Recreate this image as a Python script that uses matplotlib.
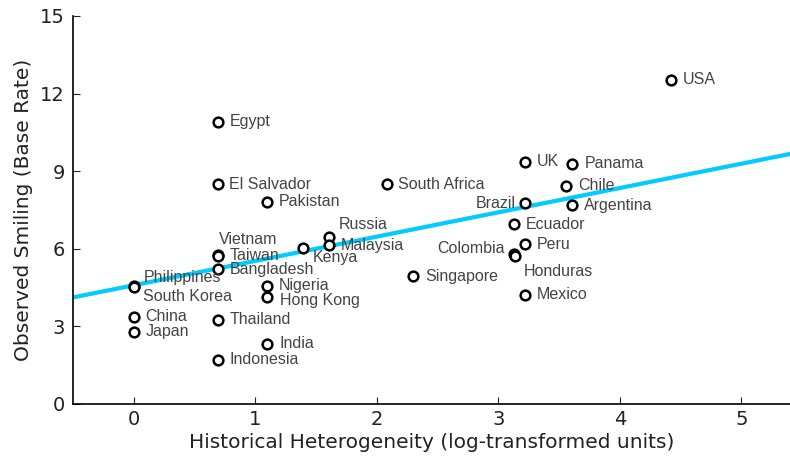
import matplotlib.pyplot as plt

countries = ['Philippines', 'South Korea', 'China', 'Japan', 'Egypt', 'El Salvador',
             'Vietnam', 'Taiwan', 'Bangladesh', 'Thailand', 'Indonesia', 'Pakistan',
             'Nigeria', 'Hong Kong', 'India', 'Kenya', 'Russia', 'Malaysia',
             'South Africa', 'Singapore', 'UK', 'Panama', 'Chile', 'Brazil',
             'Argentina', 'Ecuador', 'Peru', 'Colombia', 'Honduras', 'Mexico', 'USA']
heterogeneity = [0.0, 0.0, 0.0, 0.0, 0.69, 0.69,
                 0.69, 0.69, 0.69, 0.69, 0.69, 1.10,
                 1.10, 1.10, 1.10, 1.39, 1.61, 1.61,
                 2.08, 2.30, 3.22, 3.61, 3.56, 3.22,
                 3.61, 3.13, 3.22, 3.13, 3.14, 3.22, 4.42]
smiling = [4.58, 4.52, 3.38, 2.80, 10.91, 8.50,
           5.77, 5.74, 5.20, 3.26, 1.71, 7.81,
           4.58, 4.12, 2.33, 6.02, 6.45, 6.14,
           8.50, 4.93, 9.36, 9.28, 8.43, 7.77,
           7.69, 6.95, 6.17, 5.80, 5.72, 4.23, 12.54]

# fitted line
fit_intercept = 4.59
fit_slope = 0.94

# label offsets in points (dx, dy, ha), default is right of the marker
offsets = {
    'Philippines': (7, 6, 'left'), 'South Korea': (7, -7, 'left'),
    'Vietnam': (1, 11, 'left'), 'Kenya': (7, -7, 'left'), 'Russia': (7, 9, 'left'),
    'Brazil': (-7, 0, 'right'), 'Colombia': (-7, 4, 'right'),
    'Honduras': (6, -11, 'left'), 'Hong Kong': (9, -2, 'left'),
}

fig = plt.figure(figsize=(7.9, 4.57), dpi=100)
ax = fig.add_axes([0.0924, 0.116, 0.9076, 0.849])

ax.axline((0, fit_intercept), slope=fit_slope, color='#00ccff', lw=3, zorder=1)
ax.plot(heterogeneity, smiling, 'o', ms=7, mfc='white', mec='black', mew=1.8,
        zorder=3)

for name, x, y in zip(countries, heterogeneity, smiling):
    dx, dy, ha = offsets.get(name, (8.5, 0, 'left'))
    ax.annotate(name, (x, y), xytext=(dx, dy), textcoords='offset points',
                ha=ha, va='center', fontsize=11.5, color='#444444',
                family='Liberation Sans', zorder=4)

ax.set_xlim(-0.5, 5.4)
ax.set_ylim(0, 15)
ax.set_xticks([0, 1, 2, 3, 4, 5])
ax.set_yticks([0, 3, 6, 9, 12, 15])
ax.spines['top'].set_visible(False)
ax.spines['right'].set_visible(False)
ax.spines['left'].set_linewidth(1.2)
ax.spines['bottom'].set_linewidth(1.2)
ax.tick_params(direction='in', length=5, width=0.8, labelsize=14, colors='#222222',
               pad=6)
ax.tick_params(axis='x', pad=4)
ax.set_xlabel('Historical Heterogeneity (log-transformed units)', fontsize=14.5,
              color='#222222', labelpad=3)
ax.set_ylabel('Observed Smiling (Base Rate)', fontsize=14.5, color='#222222',
              labelpad=5)

fig.savefig('out.png', dpi=100)
